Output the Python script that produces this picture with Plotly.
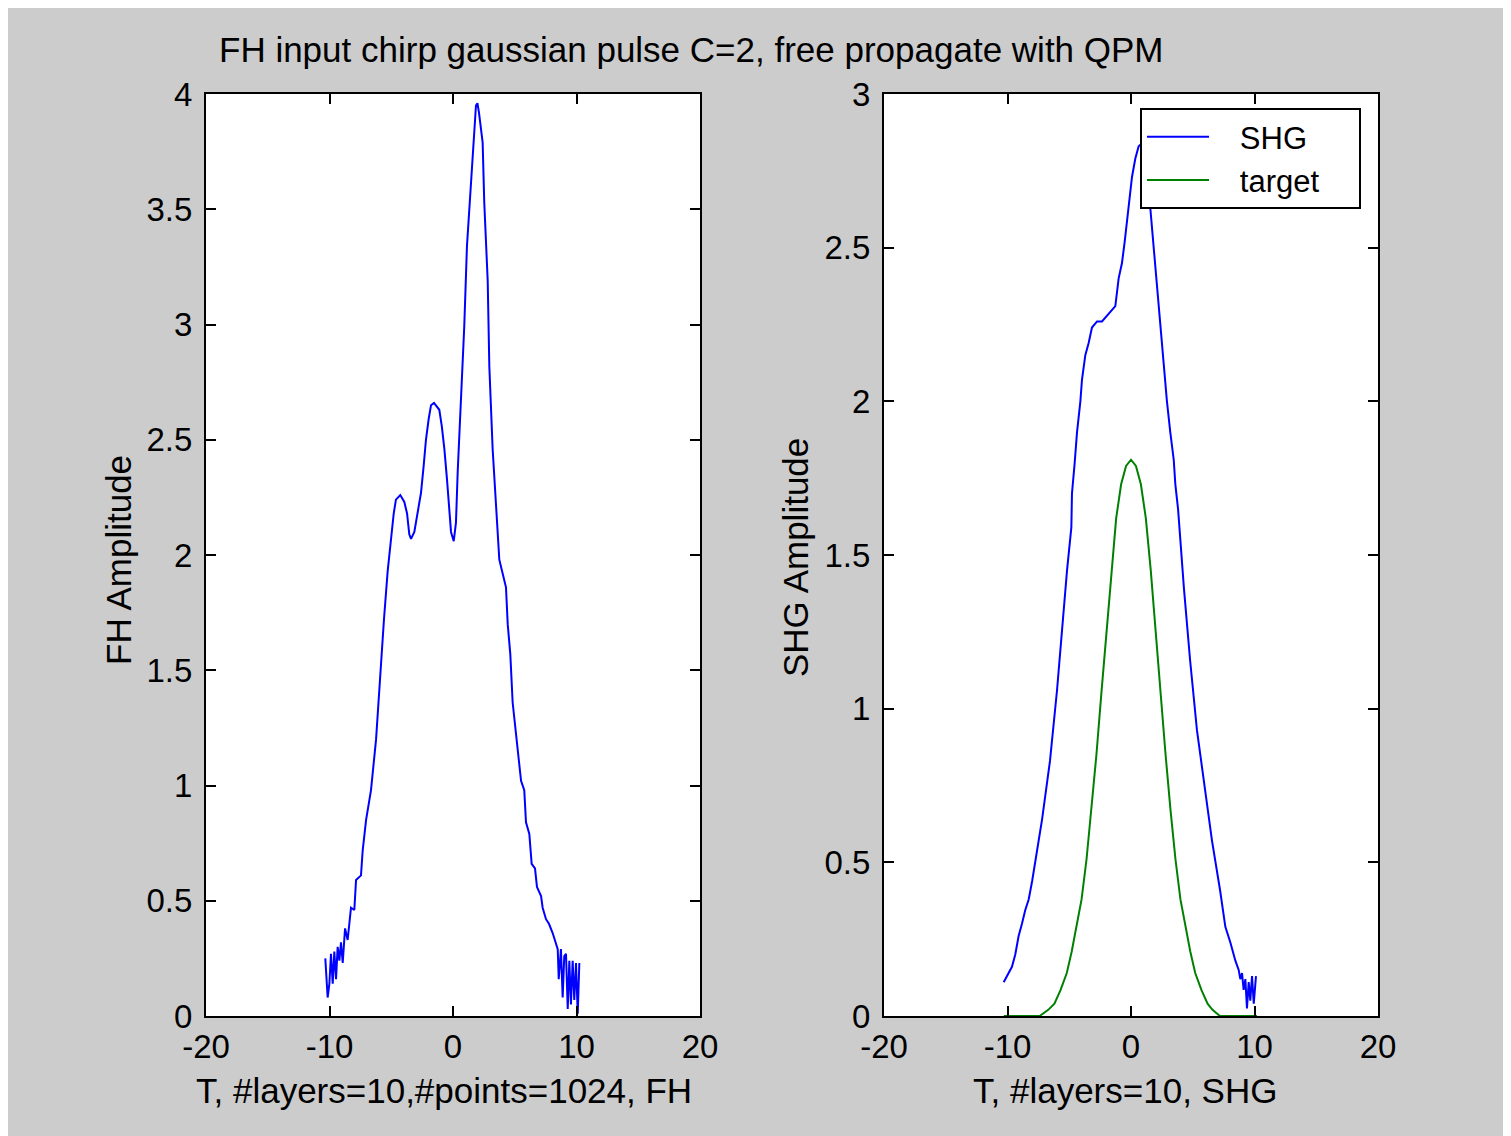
import plotly.graph_objects as go

# ---------------- data ----------------
fh_t = [-10.34, -10.15, -10.01, -9.88, -9.74, -9.61, -9.47, -9.34, -9.20, -9.07, -8.93, -8.74,
        -8.53, -8.26, -7.99, -7.85, -7.45, -7.31, -7.04, -6.64, -6.23, -5.83, -5.59, -5.29,
        -5.02, -4.80, -4.62, -4.27, -3.94, -3.72, -3.54, -3.40, -3.13, -2.86, -2.59, -2.37,
        -2.19, -1.97, -1.78, -1.54, -1.38, -1.11, -0.91, -0.70, -0.49, -0.30, -0.16, 0.06,
        0.24, 0.38, 0.65, 0.91, 1.13, 1.46, 1.72, 1.86, 1.98, 2.10, 2.40, 2.53, 2.81, 2.94,
        3.21, 3.48, 3.62, 3.75, 4.02, 4.29, 4.43, 4.64, 4.83, 5.10, 5.29, 5.51, 5.77, 5.91,
        6.18, 6.37, 6.64, 6.80, 7.13, 7.26, 7.53, 7.77, 8.07, 8.48, 8.56, 8.74, 8.88, 9.01,
        9.15, 9.29, 9.42, 9.55, 9.69, 9.82, 9.96, 10.10, 10.23]
fh_amp = [0.25, 0.08, 0.14, 0.27, 0.14, 0.28, 0.16, 0.30, 0.24, 0.32, 0.23, 0.38,
          0.33, 0.47, 0.46, 0.59, 0.61, 0.72, 0.85, 0.98, 1.20, 1.54, 1.72, 1.93,
          2.07, 2.18, 2.24, 2.26, 2.23, 2.18, 2.09, 2.07, 2.10, 2.18, 2.27, 2.39,
          2.50, 2.59, 2.65, 2.66, 2.65, 2.63, 2.56, 2.46, 2.33, 2.20, 2.10, 2.06,
          2.14, 2.36, 2.65, 2.99, 3.34, 3.64, 3.84, 3.95, 3.96, 3.92, 3.79, 3.53, 3.19, 2.82,
          2.46, 2.20, 2.07, 1.98, 1.92, 1.86, 1.70, 1.57, 1.36, 1.23, 1.12, 1.02, 0.98, 0.84,
          0.79, 0.66, 0.64, 0.56, 0.52, 0.47, 0.42, 0.40, 0.36, 0.29, 0.16, 0.29, 0.08, 0.26,
          0.27, 0.03, 0.24, 0.05, 0.24, 0.07, 0.23, 0.01, 0.23]

shg_t = [-10.31, -10.04, -9.64, -9.37, -9.10, -8.83, -8.56, -8.28, -8.00, -7.20, -6.56, -5.99,
         -5.59, -5.18, -4.83, -4.78, -4.56, -4.37, -4.10, -3.97, -3.70, -3.43, -3.16, -2.75,
         -2.35, -1.68, -1.27, -1.00, -0.73, -0.51, -0.32, -0.06, 0.08, 0.35, 0.62, 0.90,
         1.20, 1.56, 1.84, 2.10, 2.37, 2.65, 2.91, 3.18, 3.46, 3.59, 3.81, 4.29, 4.78, 5.34,
         5.99, 6.56, 7.21, 7.64, 8.04, 8.45, 8.72, 8.85, 8.99, 9.12, 9.26, 9.39, 9.53, 9.66,
         9.80, 9.94, 10.12]
shg_amp = [0.11, 0.13, 0.16, 0.20, 0.26, 0.30, 0.345, 0.38, 0.44, 0.64, 0.83, 1.06,
           1.26, 1.45, 1.59, 1.70, 1.80, 1.90, 2.00, 2.07, 2.15, 2.19, 2.24, 2.26,
           2.26, 2.29, 2.31, 2.40, 2.45, 2.52, 2.59, 2.67, 2.73, 2.79, 2.83, 2.84,
           2.76, 2.63, 2.50, 2.38, 2.24, 2.11, 2.00, 1.90, 1.81, 1.73, 1.65, 1.39, 1.16, 0.93,
           0.74, 0.57, 0.41, 0.29, 0.24, 0.18, 0.15, 0.12, 0.14, 0.085, 0.12, 0.025, 0.11, 0.05,
           0.13, 0.04, 0.13]

target_t = [-10.3, -9.0, -7.4, -6.7, -6.2, -5.7, -5.2, -4.8, -4.4, -4.0, -3.6, -3.2, -2.8,
            -2.4, -2.0, -1.6, -1.2, -0.8, -0.4, 0.0, 0.4, 0.8, 1.2, 1.6, 2.0, 2.4, 2.8, 3.2,
            3.6, 4.0, 4.4, 4.8, 5.2, 5.7, 6.2, 6.6, 7.2, 9.0, 10.2]
target_amp = [0, 0, 0, 0.02, 0.04, 0.085, 0.14, 0.21, 0.29, 0.38, 0.51, 0.67, 0.85,
              1.05, 1.24, 1.45, 1.62, 1.73, 1.79, 1.81, 1.79, 1.73, 1.62, 1.45, 1.24, 1.05, 0.85, 0.67,
              0.51, 0.38, 0.29, 0.21, 0.14, 0.085, 0.04, 0.02, 0, 0, 0]

x_tickvals = [-20, -10, 0, 10, 20]
x_ticktext = ["-20", "-10", "0", "10", "20"]
fh_yticks = [0, 0.5, 1, 1.5, 2, 2.5, 3, 3.5, 4]
shg_yticks = [0, 0.5, 1, 1.5, 2, 2.5, 3]

title_text = "FH input chirp gaussian pulse C=2, free propagate with QPM"
fh_xtitle = "T, #layers=10,#points=1024, FH"
shg_xtitle = "T, #layers=10, SHG"
fh_ytitle = "FH Amplitude"
shg_ytitle = "SHG Amplitude"
legend_names = ["SHG", "target"]

# ---------------- figure ----------------
OFF = 8                      # page body margin in the browser
W, H = 1511 - OFF, 1136 - OFF
L, T = 206 - OFF, 94 - OFF
R = W - (1378 - OFF)
B = H - (1016 - OFF)
pw = W - L - R
ph = H - T - B


def px_x(s):
    """screen x pixel -> paper coordinate"""
    return (s - OFF - L) / pw


def px_y(s):
    """screen y pixel -> paper coordinate"""
    return (H - B - (s - OFF)) / ph


FONT = "Liberation Sans, Arial, Helvetica, sans-serif"
FS_TICK = 33
FS_TITLE = 35
BLUE = "#0000ff"
GREEN = "#008000"
NB = "\u00a0"

fig = go.Figure()
fig.add_trace(go.Scatter(x=fh_t, y=fh_amp, mode="lines", line=dict(color=BLUE, width=2),
                         showlegend=False, xaxis="x", yaxis="y"))
fig.add_trace(go.Scatter(x=shg_t, y=shg_amp, mode="lines", line=dict(color=BLUE, width=2),
                         name=NB * 3 + legend_names[0] + NB * 4, xaxis="x2", yaxis="y2"))
fig.add_trace(go.Scatter(x=target_t, y=target_amp, mode="lines", line=dict(color=GREEN, width=2),
                         name=NB * 3 + legend_names[1] + NB * 4, xaxis="x2", yaxis="y2"))

common_axis = dict(showgrid=False, zeroline=False, showline=True, linecolor="black", linewidth=2,
                   mirror="ticks", ticks="inside", ticklen=10, tickwidth=2, tickcolor="black",
                   tickfont=dict(family=FONT, size=FS_TICK, color="black"))

d1 = [0, px_x(700)]
d2 = [px_x(884), 1]

fig.update_layout(
    width=W, height=H,
    margin=dict(l=L, r=R, t=T, b=B, autoexpand=False),
    paper_bgcolor="#cccccc", plot_bgcolor="white",
    font=dict(family=FONT, size=FS_TICK, color="black"),
    xaxis=dict(domain=d1, range=[-20, 20], tickmode="array", tickvals=x_tickvals,
               ticktext=x_ticktext, anchor="y", ticklabelstandoff=0, **common_axis),
    yaxis=dict(domain=[0, 1], range=[0, 4], tickmode="array", tickvals=fh_yticks,
               anchor="x", ticklabelstandoff=5, **common_axis),
    xaxis2=dict(domain=d2, range=[-20, 20], tickmode="array", tickvals=x_tickvals,
                ticktext=x_ticktext, anchor="y2", ticklabelstandoff=0, **common_axis),
    yaxis2=dict(domain=[0, 1], range=[0, 3], tickmode="array", tickvals=shg_yticks,
                anchor="x2", ticklabelstandoff=5, **common_axis),
    legend=dict(x=px_x(1140), y=px_y(108), xanchor="left", yanchor="top",
                bgcolor="white", bordercolor="black", borderwidth=2,
                font=dict(family=FONT, size=31, color="black"), itemwidth=62,
                tracegroupgap=0),
    showlegend=True,
)

ann = [
    dict(text=title_text, x=px_x(691.5), y=px_y(50)),
    dict(text=fh_xtitle, x=px_x(444), y=px_y(1090)),
    dict(text=shg_xtitle, x=px_x(1125), y=px_y(1090)),
    dict(text=fh_ytitle, x=px_x(118), y=px_y(560), textangle=-90),
    dict(text=shg_ytitle, x=px_x(795), y=px_y(558), textangle=-90),
]
for a in ann:
    fig.add_annotation(xref="paper", yref="paper", xanchor="center", yanchor="middle",
                       showarrow=False, font=dict(family=FONT, size=FS_TITLE, color="black"), **a)

fig.write_html("out.html")
